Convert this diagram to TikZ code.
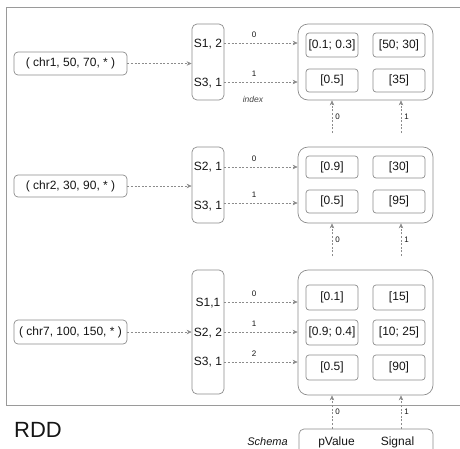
\documentclass[tikz,border=0pt]{standalone}
\usepackage{fontspec}
\setmainfont{Liberation Sans}
\usetikzlibrary{arrows.meta,positioning}

\definecolor{edge}{HTML}{8C8C8C}
\definecolor{frame}{HTML}{9A9A9A}
\definecolor{ink}{HTML}{151515}

\tikzset{
  txt/.style={font=\fontsize{12}{14}\selectfont, text=ink, inner sep=0pt},
  tuplebox/.style={draw=edge, line width=0.7pt, rounded corners=4pt, minimum width=113pt, minimum height=23pt, txt},
  keybox/.style={draw=edge, line width=0.7pt, rounded corners=5pt, minimum width=32pt},
  partbox/.style={draw=edge, line width=0.7pt, rounded corners=10pt, minimum width=135pt},
  cell/.style={draw=edge, line width=0.7pt, rounded corners=3pt, minimum width=52pt, minimum height=23pt, txt},
  flow/.style={draw=edge, line width=0.6pt, dash pattern=on 2pt off 1.6pt, -{Stealth[length=5pt,width=4.5pt]}},
  idx/.style={font=\fontsize{8}{9}\selectfont, text=ink, inner sep=0pt},
}

\begin{document}
\begin{tikzpicture}[x=1pt,y=-1pt]
\useasboundingbox (0,0) rectangle (460,448);

% enclosing RDD frame (open to the right)
\draw[frame, line width=0.9pt] (462,7.5) -- (6,7.5) -- (6,405) -- (462,405);

% ---------- partition 1 ----------
\node[tuplebox] (in1) at (70.5,63.5) {( chr1, 50, 70, * )};
\node[keybox, minimum height=76pt] (k1) at (208,62) {};
\node[txt] (k1a) at (208,44) {S1, 2};
\node[txt] (k1b) at (208,83) {S3, 1};
\node[partbox, minimum height=76pt] (p1) at (365.5,62) {};
\node[cell, minimum height=24pt] (p1a) at (332,45) {[0.1; 0.3]};
\node[cell, minimum height=24pt] (p1b) at (399,45) {[50; 30]};
\node[cell] (p1c) at (332,80.5) {[0.5]};
\node[cell] (p1d) at (399,80.5) {[35]};
\draw[flow] (in1.east) -- (k1.west |- in1.east);
\draw[flow] (k1.east |- 0,43) -- node[idx, above=5pt, xshift=-7pt] {0} (p1.west |- 0,43);
\draw[flow] (k1.east |- 0,82) -- node[idx, above=5pt, xshift=-7pt] {1} (p1.west |- 0,82);
\node[font=\fontsize{8.5}{10}\selectfont\itshape, text=ink!80, inner sep=0pt] (ix) at (253,99.5) {index};
\coordinate (u1a) at (332,133);
\coordinate (u1b) at (401,133);
\draw[flow] (u1a) -- node[idx, right=3pt] {0} (u1a |- p1.south);
\draw[flow] (u1b) -- node[idx, right=3pt] {1} (u1b |- p1.south);

% ---------- partition 2 ----------
\node[tuplebox, minimum height=22pt] (in2) at (70.5,186) {( chr2, 30, 90, * )};
\node[keybox, minimum height=76pt] (k2) at (208,185) {};
\node[txt] (k2a) at (208,167) {S2, 1};
\node[txt] (k2b) at (208,206) {S3, 1};
\node[partbox, minimum height=76pt] (p2) at (365.5,185) {};
\node[cell, minimum height=22pt] (p2a) at (332,167) {[0.9]};
\node[cell, minimum height=22pt] (p2b) at (399,167) {[30]};
\node[cell] (p2c) at (332,201.5) {[0.5]};
\node[cell] (p2d) at (399,201.5) {[95]};
\draw[flow] (in2.east) -- (k2.west |- in2.east);
\draw[flow] (k2.east |- 0,167) -- node[idx, above=5pt, xshift=-7pt] {0} (p2.west |- 0,167);
\draw[flow] (k2.east |- 0,203) -- node[idx, above=5pt, xshift=-7pt] {1} (p2.west |- 0,203);
\coordinate (u2a) at (332,256);
\coordinate (u2b) at (401,256);
\draw[flow] (u2a) -- node[idx, right=3pt] {0} (u2a |- p2.south);
\draw[flow] (u2b) -- node[idx, right=3pt] {1} (u2b |- p2.south);

% ---------- partition 3 ----------
\node[tuplebox, minimum height=24pt] (in3) at (70.5,332) {( chr7, 100, 150, * )};
\node[keybox, minimum height=124pt] (k3) at (208,332) {};
\node[txt] (k3a) at (208,303) {S1,1};
\node[txt] (k3b) at (208,333) {S2, 2};
\node[txt] (k3c) at (208,362) {S3, 1};
\node[partbox, minimum height=125pt] (p3) at (365.5,332.5) {};
\node[cell, minimum height=25pt] (p3a) at (332,297.5) {[0.1]};
\node[cell, minimum height=25pt] (p3b) at (399,297.5) {[15]};
\node[cell, minimum height=25pt] (p3c) at (332,332.5) {[0.9; 0.4]};
\node[cell, minimum height=25pt] (p3d) at (399,332.5) {[10; 25]};
\node[cell, minimum height=25pt] (p3e) at (332,367.5) {[0.5]};
\node[cell, minimum height=25pt] (p3f) at (399,367.5) {[90]};
\draw[flow] (in3.east) -- (k3.west |- in3.east);
\draw[flow] (k3.east |- 0,302) -- node[idx, above=5pt, xshift=-7pt] {0} (p3.west |- 0,302);
\draw[flow] (k3.east |- 0,332) -- node[idx, above=5pt, xshift=-7pt] {1} (p3.west |- 0,332);
\draw[flow] (k3.east |- 0,362) -- node[idx, above=5pt, xshift=-7pt] {2} (p3.west |- 0,362);

% ---------- schema ----------
\node[draw=edge, line width=0.7pt, rounded corners=5pt, minimum width=134pt, minimum height=30pt] (sch) at (366,444) {};
\node[txt] (sv) at (336.5,442) {pValue};
\node[txt] (ss) at (397.5,442) {Signal};
\node[font=\fontsize{11}{13}\selectfont\itshape, text=ink, inner sep=0pt] (sl) at (267.5,442) {Schema};
\draw[flow] (u1a |- sch.north) -- node[idx, right=3pt] {0} (u1a |- p3.south);
\draw[flow] (u1b |- sch.north) -- node[idx, right=3pt] {1} (u1b |- p3.south);

% caption
\node[font=\fontsize{22}{24}\selectfont, text=ink, inner sep=0pt] (rdd) at (38,430) {RDD};
\end{tikzpicture}
\end{document}
